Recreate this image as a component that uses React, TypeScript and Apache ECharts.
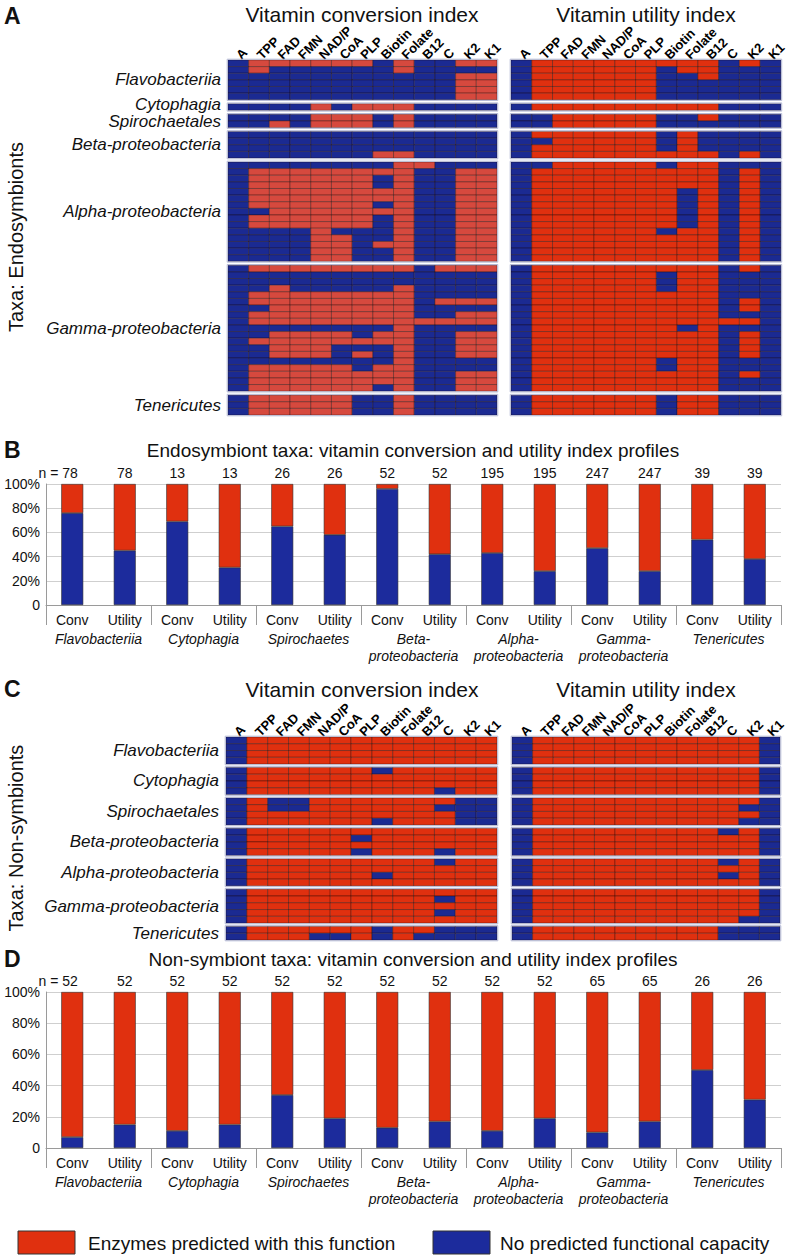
import React, { useEffect, useRef } from 'react';
import * as echarts from 'echarts';

const FONT = '"Liberation Sans", Arial, Helvetica, sans-serif';
const BLUE = '#1b2a92';
const RED_A_CONV = '#d6493e';
const RED = '#e0300f';

const vitamins = ['A', 'TPP', 'FAD', 'FMN', 'NAD/P', 'CoA', 'PLP', 'Biotin', 'Folate', 'B12', 'C', 'K2', 'K1'];
const heatTaxa = ['Flavobacteriia', 'Cytophagia', 'Spirochaetales', 'Beta-proteobacteria', 'Alpha-proteobacteria', 'Gamma-proteobacteria', 'Tenericutes'];

// 1 = enzymes predicted with this function, 0 = no predicted functional capacity
const endoConv: string[][] = [
  ['0111111010011', '0100000010000', '0000000000011', '0000000000011', '0000000000011', '0000000000011'],
  ['0000101110000'],
  ['0000111010000', '0010111010000'],
  ['0000000000000', '0000000000000', '0000000000000', '0000000110000'],
  ['0000000011000', '0111111110011', '0111111010011', '0111111010011', '0111111110011', '0111111110011', '0111111010011', '0011111110011', '0111111010011', '0111111010011', '0000100010011', '0000110010011', '0000110110011', '0000110010011', '0000110010011'],
  ['0111111110111', '0000000000000', '0000000000000', '0010000010000', '0111111110000', '0111111110111', '0011111110000', '0111111110011', '0111111111111', '0000000010000', '0011110110011', '0111111110011', '0011100010011', '0011101010011', '0000000010000', '0111110110000', '0111111110011', '0111111110011', '0111111010011'],
  ['0111110010000', '0111110010000', '0111110010000'],
];
const endoUtil: string[][] = [
  ['0111111111010', '0111111011000', '0111111001000', '0111111000000', '0111111000000', '0111111000000'],
  ['0111111111000'],
  ['0011111001000', '0011111000000'],
  ['0111111010000', '0011111010000', '0111111010000', '0111111111010'],
  ['0011111011000', '0111111111010', '0111111111010', '0111111111010', '0111111101010', '0111111101010', '0111111101010', '0111111101010', '0111111101010', '0111111101010', '0111111011010', '0111111111010', '0111111111010', '0111111111010', '0111111111010'],
  ['0111111111010', '0111111011000', '0111111011000', '0111111011000', '0111111111000', '0111111111010', '0111111111010', '0111111111000', '0111111111110', '0111111101000', '0111111111010', '0111111111010', '0111111111010', '0111111111010', '0111111011000', '0111111011000', '0111111111010', '0111111111000', '0111111111000'],
  ['0111111011000', '0111111011000', '0111111011000'],
];
const nonConv: string[][] = [
  ['0111111111111', '0111111111111', '0111111111111', '0111111111111'],
  ['0111111011111', '0111111111111', '0111111111111', '0111111111011'],
  ['0100111111100', '0100111111000', '0111111111100', '0111111011100'],
  ['0111111111111', '0111110111111', '0111111111111', '0111110111011'],
  ['0111111111011', '0111111111111', '0111111011111', '0111111111111'],
  ['0111111111111', '0111111111011', '0111111111111', '0111111111011', '0111111111111'],
  ['0111111011000', '0111001010000'],
];
const nonUtil: string[][] = [
  ['0111111111110', '0111111111110', '0111111111110', '0111111111110'],
  ['0111111111110', '0111111111110', '0111111111110', '0111111111110'],
  ['0111111111110', '0111111111100', '0111111111110', '0111111111100'],
  ['0111111111010', '0111111111110', '0111111111110', '0111111111110'],
  ['0111111111010', '0111111111110', '0111111111010', '0111111111110'],
  ['0111111111110', '0111111111110', '0111111111110', '0111111111110', '0111111111100'],
  ['0111111111000', '0111111111000'],
];

const barCats = ['Conv', 'Utility', 'Conv', 'Utility', 'Conv', 'Utility', 'Conv', 'Utility', 'Conv', 'Utility', 'Conv', 'Utility', 'Conv', 'Utility'];
const barTaxa = ['Flavobacteriia', 'Cytophagia', 'Spirochaetes', 'Beta-\nproteobacteria', 'Alpha-\nproteobacteria', 'Gamma-\nproteobacteria', 'Tenericutes'];
const endoN = [78, 78, 13, 13, 26, 26, 52, 52, 195, 195, 247, 247, 39, 39];
const endoBlue = [76, 45, 69, 31, 65, 58, 96, 42, 43, 28, 47, 28, 54, 38];
const endoRed = [24, 55, 31, 69, 35, 42, 4, 58, 57, 72, 53, 72, 46, 62];
const nonN = [52, 52, 52, 52, 52, 52, 52, 52, 52, 52, 65, 65, 26, 26];
const nonBlue = [7, 15, 11, 15, 34, 19, 13, 17, 11, 19, 10, 17, 50, 31];
const nonRed = [93, 85, 89, 85, 66, 81, 87, 83, 89, 81, 90, 83, 50, 69];

// small vertical nudges (px) for the crowded row-group labels of panel A
const labelNudgeA = [0, -3, 1, 0, 0, 0, 0];
const labelNudgeC = [0, 0, 0, 0, 0, 0, 0];

function layoutGroups(groups: string[][], gap: number) {
  const cells: number[][] = [];
  const centers: number[][] = [];
  const spans: number[][] = [];
  let y = 0;
  groups.forEach((rows) => {
    const start = y;
    rows.forEach((row) => {
      for (let c = 0; c < row.length; c++) cells.push([c, y, row[c] === '1' ? 1 : 0]);
      y += 1;
    });
    centers.push([0, (start + y) / 2]);
    spans.push([start, y]);
    y += gap;
  });
  return { cells, centers, spans, total: y - gap };
}

function cellRender(red: string) {
  return (params: any, api: any) => {
    const c = api.value(0);
    const y = api.value(1);
    const v = api.value(2);
    const p0 = api.coord([c, y]);
    const p1 = api.coord([c, y + 1]);
    const w = api.size([1, 0])[0];
    return {
      type: 'rect',
      shape: { x: p0[0] - w / 2, y: p0[1], width: w, height: p1[1] - p0[1] },
      style: { fill: v ? red : BLUE, stroke: 'rgba(25,5,5,0.6)', lineWidth: 0.6 },
    };
  };
}

function outlineRender(spans: number[][]) {
  return (params: any, api: any) => {
    const s = spans[params.dataIndex];
    const p0 = api.coord([0, s[0]]);
    const p1 = api.coord([12, s[1]]);
    const w = api.size([1, 0])[0];
    return {
      type: 'rect',
      shape: { x: p0[0] - w / 2 - 0.8, y: p0[1] - 0.8, width: p1[0] - p0[0] + w + 1.6, height: p1[1] - p0[1] + 1.6 },
      style: { fill: 'none', stroke: '#b3b8d6', lineWidth: 1 },
    };
  };
}

function labelRender(names: string[], nudge: number[]) {
  return (params: any, api: any) => {
    const p = api.coord([0, api.value(1)]);
    const w = api.size([1, 0])[0];
    return {
      type: 'text',
      x: p[0] - w / 2 - 7,
      y: p[1] + nudge[params.dataIndex],
      style: { text: names[params.dataIndex], fontSize: 17, lineHeight: 14, fontStyle: 'italic', fontFamily: FONT, fill: '#111', align: 'right', verticalAlign: 'middle' },
    };
  };
}

export default function App() {
  const ref = useRef<HTMLDivElement>(null);
  useEffect(() => {
    if (!ref.current) return;
    const chart = echarts.init(ref.current, undefined, { renderer: 'svg' });

    const gapA = 0.6;
    const gapC = 0.5;
    const heats = [
      { groups: endoConv, gap: gapA, red: RED_A_CONV, grid: { left: 228, top: 60, width: 269, height: 355 }, nudge: labelNudgeA },
      { groups: endoUtil, gap: gapA, red: RED, grid: { left: 511, top: 60, width: 270, height: 355 }, nudge: null },
      { groups: nonConv, gap: gapC, red: RED, grid: { left: 226, top: 737, width: 271, height: 203 }, nudge: labelNudgeC },
      { groups: nonUtil, gap: gapC, red: RED, grid: { left: 512, top: 737, width: 268, height: 203 }, nudge: null },
    ];
    const bars = [
      { blue: endoBlue, red: endoRed, n: endoN, grid: { left: 46, top: 484, width: 735, height: 121 } },
      { blue: nonBlue, red: nonRed, n: nonN, grid: { left: 46, top: 992, width: 735, height: 156 } },
    ];

    const grids: any[] = [];
    const xAxes: any[] = [];
    const yAxes: any[] = [];
    const series: any[] = [];

    heats.forEach((h) => {
      const gi = grids.length;
      grids.push({ ...h.grid, containLabel: false });
      const L = layoutGroups(h.groups, h.gap);
      const xi = xAxes.length;
      xAxes.push({
        gridIndex: gi, type: 'category', data: vitamins, position: 'top',
        axisLine: { show: false }, axisTick: { show: false }, splitLine: { show: false },
        axisLabel: { rotate: 45, interval: 0, fontWeight: 'bold', fontSize: 13, fontFamily: FONT, color: '#000', margin: 3 },
      });
      const yi = yAxes.length;
      yAxes.push({ gridIndex: gi, type: 'value', inverse: true, min: 0, max: L.total, show: false });
      series.push({ type: 'custom', xAxisIndex: xi, yAxisIndex: yi, data: L.cells, renderItem: cellRender(h.red), clip: false, silent: true });
      series.push({ type: 'custom', xAxisIndex: xi, yAxisIndex: yi, data: L.spans, renderItem: outlineRender(L.spans), clip: false, silent: true, z: 3 });
      if (h.nudge) {
        series.push({ type: 'custom', xAxisIndex: xi, yAxisIndex: yi, data: L.centers, renderItem: labelRender(heatTaxa, h.nudge), clip: false, silent: true });
      }
    });

    bars.forEach((b) => {
      const gi = grids.length;
      grids.push({ ...b.grid, containLabel: false });
      const xi = xAxes.length;
      xAxes.push({
        gridIndex: gi, type: 'category', data: barCats, position: 'bottom',
        axisLine: { show: true, lineStyle: { color: '#9a9a9a' } }, axisTick: { show: false },
        axisLabel: { interval: 0, fontSize: 14, fontFamily: FONT, color: '#111', margin: 8 },
      });
      xAxes.push({
        gridIndex: gi, type: 'category', data: barTaxa, position: 'bottom', offset: 0,
        axisLine: { show: false }, axisTick: { show: true, length: 20, lineStyle: { color: '#9a9a9a' } },
        axisLabel: { interval: 0, fontSize: 14, fontStyle: 'italic', fontFamily: FONT, color: '#111', margin: 25, lineHeight: 17 },
      });
      const yi = yAxes.length;
      yAxes.push({
        gridIndex: gi, type: 'value', min: 0, max: 100, interval: 20,
        axisLine: { show: true, lineStyle: { color: '#9a9a9a' } }, axisTick: { show: false },
        axisLabel: { fontSize: 14, fontFamily: FONT, color: '#111', margin: 6, formatter: (v: number) => (v === 0 ? '0' : v + '%') },
        splitLine: { show: true, lineStyle: { color: '#cfcfcf' } },
      });
      series.push({
        type: 'bar', name: 'No predicted functional capacity', stack: 'p' + gi, xAxisIndex: xi, yAxisIndex: yi, barWidth: 22,
        data: b.blue, itemStyle: { color: '#1c2b9c', borderColor: '#333', borderWidth: 0.6 }, silent: true,
      });
      series.push({
        type: 'bar', name: 'Enzymes predicted with this function', stack: 'p' + gi, xAxisIndex: xi, yAxisIndex: yi, barWidth: 22,
        data: b.red.map((v, i) => (i === 0
          ? { value: v, label: { formatter: 'n = ' + b.n[i], offset: [-14, 0] } }
          : { value: v })),
        itemStyle: { color: RED, borderColor: '#333', borderWidth: 0.6 }, silent: true,
        label: { show: true, position: 'top', distance: 4, fontSize: 14, fontFamily: FONT, color: '#111', formatter: (p: any) => String(b.n[p.dataIndex]) },
      });
    });

    const txt = (x: number, y: number, text: string, opts: any = {}) => ({
      type: 'text', x, y, rotation: opts.rotation || 0,
      style: { text, fontSize: opts.fontSize || 14, fontWeight: opts.fontWeight || 'normal', fontFamily: FONT, fill: '#111', align: opts.align || 'left', verticalAlign: 'middle' },
    });

    const graphic: any[] = [
      txt(4, 16, 'A', { fontSize: 23, fontWeight: 'bold' }),
      txt(362, 14, 'Vitamin conversion index', { fontSize: 21, align: 'center' }),
      txt(646, 14, 'Vitamin utility index', { fontSize: 21, align: 'center' }),
      txt(16, 237, 'Taxa: Endosymbionts', { fontSize: 20, align: 'center', rotation: Math.PI / 2 }),
      txt(4, 450, 'B', { fontSize: 23, fontWeight: 'bold' }),
      txt(413, 450, 'Endosymbiont taxa: vitamin conversion and utility index profiles', { fontSize: 19, align: 'center' }),
      txt(4, 689, 'C', { fontSize: 23, fontWeight: 'bold' }),
      txt(362, 689, 'Vitamin conversion index', { fontSize: 21, align: 'center' }),
      txt(646, 689, 'Vitamin utility index', { fontSize: 21, align: 'center' }),
      txt(16, 838, 'Taxa: Non-symbionts', { fontSize: 20, align: 'center', rotation: Math.PI / 2 }),
      txt(4, 959, 'D', { fontSize: 23, fontWeight: 'bold' }),
      txt(413, 959, 'Non-symbiont taxa: vitamin conversion and utility index profiles', { fontSize: 19, align: 'center' }),
      { type: 'rect', shape: { x: 18, y: 1231, width: 57, height: 23 }, style: { fill: RED, stroke: '#333', lineWidth: 1 } },
      txt(88, 1243, 'Enzymes predicted with this function', { fontSize: 19 }),
      { type: 'rect', shape: { x: 433, y: 1231, width: 57, height: 23 }, style: { fill: '#1c2b9c', stroke: '#333', lineWidth: 1 } },
      txt(500, 1243, 'No predicted functional capacity', { fontSize: 19 }),
    ];

    chart.setOption({
      animation: false,
      backgroundColor: '#ffffff',
      textStyle: { fontFamily: FONT },
      grid: grids,
      xAxis: xAxes,
      yAxis: yAxes,
      series,
      graphic,
    });
    return () => chart.dispose();
  }, []);
  return <div ref={ref} style={{ position: 'absolute', left: 0, top: 0, width: 789, height: 1257, background: '#fff' }} />;
}
